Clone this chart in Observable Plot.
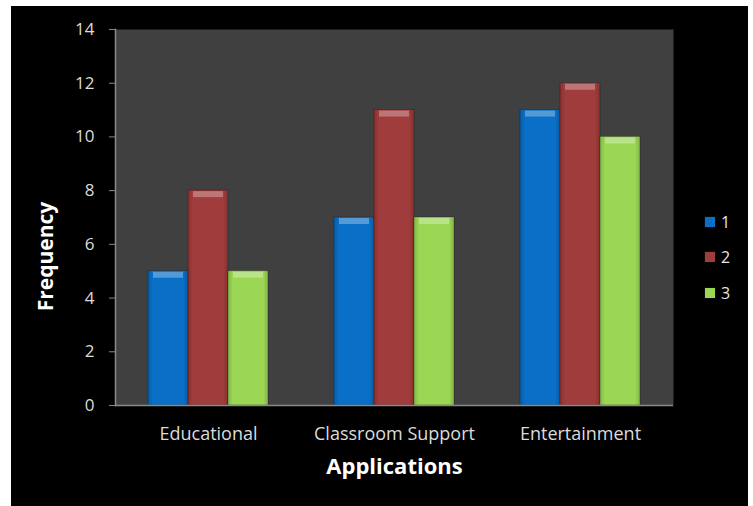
<!DOCTYPE html>
<html>
<head>
<meta charset="utf-8">
<script src="https://cdn.jsdelivr.net/npm/d3@7"></script>
<script src="https://cdn.jsdelivr.net/npm/@observablehq/plot@0.6"></script>
<style>
  html, body { margin: 0; padding: 0; background: #ffffff; }
  #panel { position: absolute; left: 11px; top: 6px; width: 737px; height: 500px; background: #000; overflow: hidden; }
  #legend { position: absolute; left: 705px; top: 204px; font-family: "Open Sans", sans-serif; font-size: 16px; color: #e6e6e6; }
  #legend .item { display: flex; align-items: center; height: 35.5px; }
  #legend .sw { width: 10px; height: 10px; margin-right: 6px; box-shadow: 0 0 2px rgba(255,255,255,0.15); }
</style>
</head>
<body>
<div id="panel"></div>
<script>
const categories = ["Educational", "Classroom Support", "Entertainment"];
const seriesNames = ["1", "2", "3"];
const series1 = [5, 7, 11];
const series2 = [8, 11, 12];
const series3 = [5, 7, 10];
const yTicks = [0, 2, 4, 6, 8, 10, 12, 14];
const seriesColors = ["#0a6fc6", "#a03c3b", "#9bd755"];
const xTitle = "Applications";
const yTitle = "Frequency";

const seriesValues = [series1, series2, series3];
const data = [];
categories.forEach((c, i) => {
  seriesNames.forEach((s, j) => data.push({category: c, series: s, value: seriesValues[j][i]}));
});

const font = "'Open Sans', sans-serif";

const plot = Plot.plot({
  width: 737,
  height: 500,
  marginLeft: 103,
  marginRight: 75,
  marginTop: 23,
  marginBottom: 101,
  style: {background: "#000", color: "#dcdcdc", fontFamily: font, fontSize: "16px", overflow: "visible"},
  fx: {domain: categories, padding: 0, label: null},
  x: {domain: seriesNames, paddingInner: 0, paddingOuter: 0.79, axis: null},
  y: {domain: [0, 14], ticks: yTicks, label: null},
  color: {domain: seriesNames, range: seriesNames.map((s, i) => `url(#grad${i})`)},
  marks: [
    Plot.frame({fill: "#404040", stroke: null, facet: "super"}),
    Plot.barY(data, {fx: "category", x: "series", y: "value", fill: "series", stroke: "#000", strokeOpacity: 0.25, strokeWidth: 1}),
    Plot.tickY(data, {fx: "category", x: "series", y: "value", stroke: "#fff", strokeOpacity: 0.3, strokeWidth: 6, dy: 3.5, inset: 5}),
    Plot.ruleY([0], {stroke: "#8a8a8a", strokeWidth: 1.5}),
    Plot.frame({anchor: "left", stroke: "#8a8a8a", strokeWidth: 1.5, facet: "super"}),
    Plot.axisY({ticks: yTicks, tickSize: 6, tickPadding: 15, stroke: "#8a8a8a", fill: "#dcdcdc", fontSize: 17, label: null}),
    Plot.axisFx({anchor: "bottom", tickSize: 0, tickPadding: 22, fontSize: 18, fill: "#dcdcdc", label: null}),
    Plot.text([yTitle], {frameAnchor: "left", textAnchor: "middle", dx: -69, dy: 39, rotate: -90, fontSize: 21, fontWeight: "bold", fill: "#fff", facet: "super"}),
    Plot.text([xTitle], {frameAnchor: "bottom", dy: 68, fontSize: 22, fontWeight: "bold", fill: "#fff", facet: "super"})
  ]
});

const svg = d3.select(plot);
const defs = svg.insert("defs", ":first-child");
seriesColors.forEach((c, i) => {
  const g = defs.append("linearGradient").attr("id", `grad${i}`).attr("x1", 0).attr("x2", 1).attr("y1", 0).attr("y2", 0);
  const dark = d3.color(c).darker(0.5);
  g.append("stop").attr("offset", "0%").attr("stop-color", dark);
  g.append("stop").attr("offset", "12%").attr("stop-color", c);
  g.append("stop").attr("offset", "88%").attr("stop-color", c);
  g.append("stop").attr("offset", "100%").attr("stop-color", dark);
});

const panel = document.getElementById("panel");
panel.appendChild(plot);

const legend = document.createElement("div");
legend.id = "legend";
seriesNames.forEach((s, i) => {
  const item = document.createElement("div");
  item.className = "item";
  const sw = document.createElement("span");
  sw.className = "sw";
  sw.style.background = seriesColors[i];
  const t = document.createElement("span");
  t.textContent = s;
  item.appendChild(sw);
  item.appendChild(t);
  legend.appendChild(item);
});
document.body.appendChild(legend);
</script>
</body>
</html>
